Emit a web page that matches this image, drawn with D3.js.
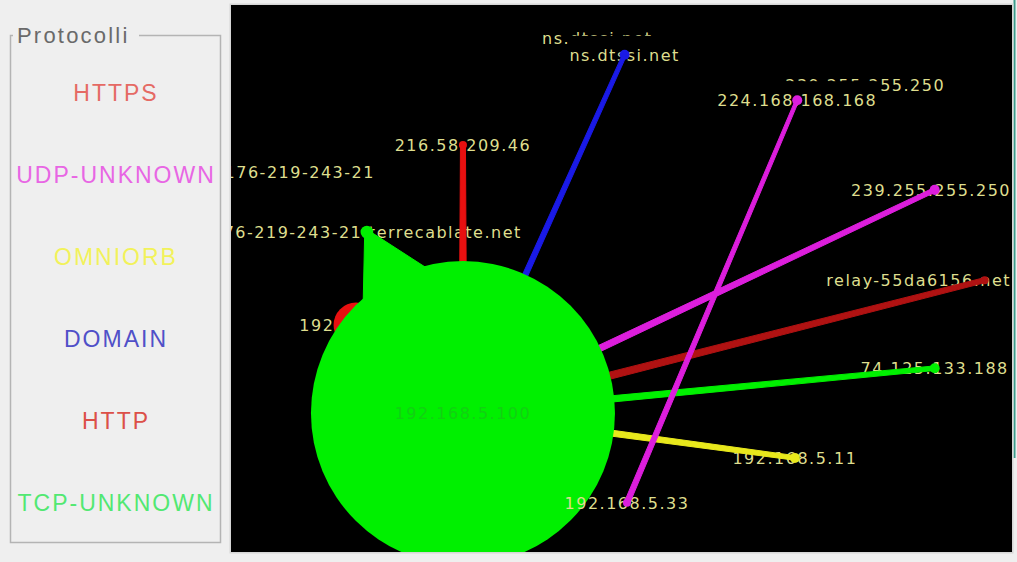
<html>
<head>
<script src="https://d3js.org/d3.v7.min.js"></script>
<style>
body { margin: 0; background: #efefef; overflow: hidden; }
.legend { font-family: "Liberation Sans", Arial, sans-serif; font-size: 23px; letter-spacing: 2px; }
.lbl { font-family: "DejaVu Sans", sans-serif; font-size: 16px; letter-spacing: 1.5px; fill: #dede8e; }
</style>
</head>
<body>
<svg width="1017" height="562"></svg>
<script>

// protocols shown in the legend
var protocols = ["HTTPS", "UDP-UNKNOWN", "OMNIORB", "DOMAIN", "HTTP", "TCP-UNKNOWN"];
var legendColors = ["#e56a64", "#e866e4", "#f2f25a", "#5050c8", "#dc5048", "#52e872"];
var linkColors = ["#e81010", "#dc1edc", "#e8e81c", "#1a1ae6", "#b01212", "#00f000"];

// hosts, in drawing order (layout position in percent of the canvas, traffic, protocol index)
var nodeNames = ["176-219-243-21", "ns.dtssi.net", "239.255.255.250", "192.168.5.1",
  "176-219-243-21.terrecablate.net", "216.58.209.46", "ns.dtssi.net", "224.168.168.168",
  "239.255.255.250", "relay-55da6156.net", "74.125.133.188", "192.168.5.11",
  "192.168.5.100", "192.168.5.33"];
var nodeX = [8.8, 46.9, 81.2, 16.0, 17.4, 29.7, 50.4, 72.5, 90.1, 96.5, 90.1, 72.2, 29.7, 50.7];
var nodeY = [30.5, 6.0, 14.6, 58.5, 41.5, 25.6, 9.1, 17.4, 33.8, 50.3, 66.4, 82.8, 74.6, 91.0];
var nodeTraffic = [0, 0, 0, 500, 40, 16, 25, 25, 25, 16, 25, 25, 23000, 16];
var nodeProto = [5, 3, 1, 0, 5, 0, 3, 1, 1, 4, 5, 2, 5, 1];
var localHost = 12;

// connections (source, target, kilobytes, protocol index)
var linkSource = [12, 12, 12, 12, 12, 12, 12, 12, 13];
var linkTarget = [4, 3, 5, 6, 8, 9, 10, 11, 7];
var linkKB = [9000, 300, 310, 240, 270, 300, 270, 270, 210];
var linkProto = [5, 0, 0, 3, 1, 4, 5, 2, 1];

function draw() {
  var svg = d3.select("svg");

  // ---- legend box
  var ly = d3.scalePoint().domain(protocols).range([93, 503]);
  svg.append("path")
    .attr("d", "M13,35.5 H10.5 V542.5 H220.5 V35.5 H139")
    .attr("fill", "none").attr("stroke", "#b4b4b4").attr("stroke-width", 1.5);
  svg.append("text")
    .attr("x", 17).attr("y", 43)
    .style("font-family", "Liberation Sans, Arial, sans-serif")
    .style("font-size", "22px").style("letter-spacing", "2.2px")
    .attr("fill", "#6a6a6a")
    .text("Protocolli");
  svg.selectAll(".legend").data(protocols).enter().append("text")
    .attr("class", "legend")
    .attr("x", 116).attr("y", function(d) { return ly(d); })
    .attr("dy", "0.36em")
    .attr("text-anchor", "middle")
    .attr("fill", function(d, i) { return legendColors[i]; })
    .text(function(d) { return d; });

  // ---- graph canvas
  var cLeft = 231, cTop = 5, cRight = 1012, cBottom = 552;
  var xs = d3.scaleLinear().domain([0, 100]).range([cLeft, cRight]);
  var ys = d3.scaleLinear().domain([0, 100]).range([cTop, cBottom]);
  var rs = d3.scaleSqrt().domain([0, 23000]).range([0, 152]);
  var ws = d3.scaleLinear().domain([0, 1000]).range([0, 26]);

  svg.append("line").attr("x1", 1014.5).attr("x2", 1014.5).attr("y1", 0).attr("y2", 458)
    .attr("stroke", "#3c9c8c").attr("stroke-width", 2);
  svg.append("rect").attr("x", cLeft - 1.5).attr("y", cTop - 1.5)
    .attr("width", cRight - cLeft + 3).attr("height", cBottom - cTop + 3)
    .attr("fill", "#d6d6d6");
  svg.append("defs").append("clipPath").attr("id", "cv")
    .append("rect").attr("x", cLeft).attr("y", cTop).attr("width", cRight - cLeft).attr("height", cBottom - cTop);
  svg.append("rect").attr("x", cLeft).attr("y", cTop)
    .attr("width", cRight - cLeft).attr("height", cBottom - cTop).attr("fill", "black");

  var g = svg.append("g").attr("clip-path", "url(#cv)");

  var nodes = nodeNames.map(function(n, i) {
    return {name: n, x: xs(nodeX[i]), y: ys(nodeY[i]), r: rs(nodeTraffic[i]), p: nodeProto[i]};
  });
  var links = linkSource.map(function(s, i) {
    return {s: s, t: linkTarget[i], w: ws(linkKB[i]), p: linkProto[i]};
  });

  function taper(s, t, w0) {
    var dx = t.x - s.x, dy = t.y - s.y, L = Math.sqrt(dx * dx + dy * dy);
    var nx = -dy / L, ny = dx / L;
    var w1 = Math.min(w0 * 0.65, 5);
    return [[s.x + nx * w0 / 2, s.y + ny * w0 / 2], [t.x + nx * w1 / 2, t.y + ny * w1 / 2],
            [t.x - nx * w1 / 2, t.y - ny * w1 / 2], [s.x - nx * w0 / 2, s.y - ny * w0 / 2]];
  }

  // each host: label, its outgoing links, then its circle
  nodes.forEach(function(d, i) {
    var lg = g.append("g");
    var box = lg.append("rect").attr("fill", i < localHost ? "black" : "none");
    var t = lg.append("text").attr("class", "lbl")
      .attr("text-anchor", "middle").attr("dy", "0.36em")
      .attr("y", d.y).text(d.name);
    var w = t.node().getComputedTextLength();
    var lx = Math.min(d.x, cRight - w / 2 - 1);
    t.attr("x", lx);
    box.attr("x", lx - w / 2 - 1).attr("y", d.y - 19).attr("width", w + 2).attr("height", 27);

    g.selectAll(null).data(links.filter(function(l) { return l.s == i; })).enter().append("path")
      .attr("d", function(l) { return d3.line()(taper(nodes[l.s], nodes[l.t], l.w)) + "Z"; })
      .attr("fill", function(l) { return linkColors[l.p]; })
      .attr("stroke", function(l) { return linkColors[l.p]; })
      .attr("stroke-width", 1).attr("stroke-linejoin", "round");

    g.append("circle")
      .attr("cx", d.x).attr("cy", d.y).attr("r", d.r)
      .attr("fill", linkColors[d.p]);

    if (i == localHost) {
      g.append("text").attr("class", "lbl")
        .attr("x", d.x).attr("y", d.y).attr("dy", "0.36em")
        .attr("text-anchor", "middle").style("fill", "#12d012")
        .text(d.name);
    }
  });
}
draw();

</script>
</body>
</html>
